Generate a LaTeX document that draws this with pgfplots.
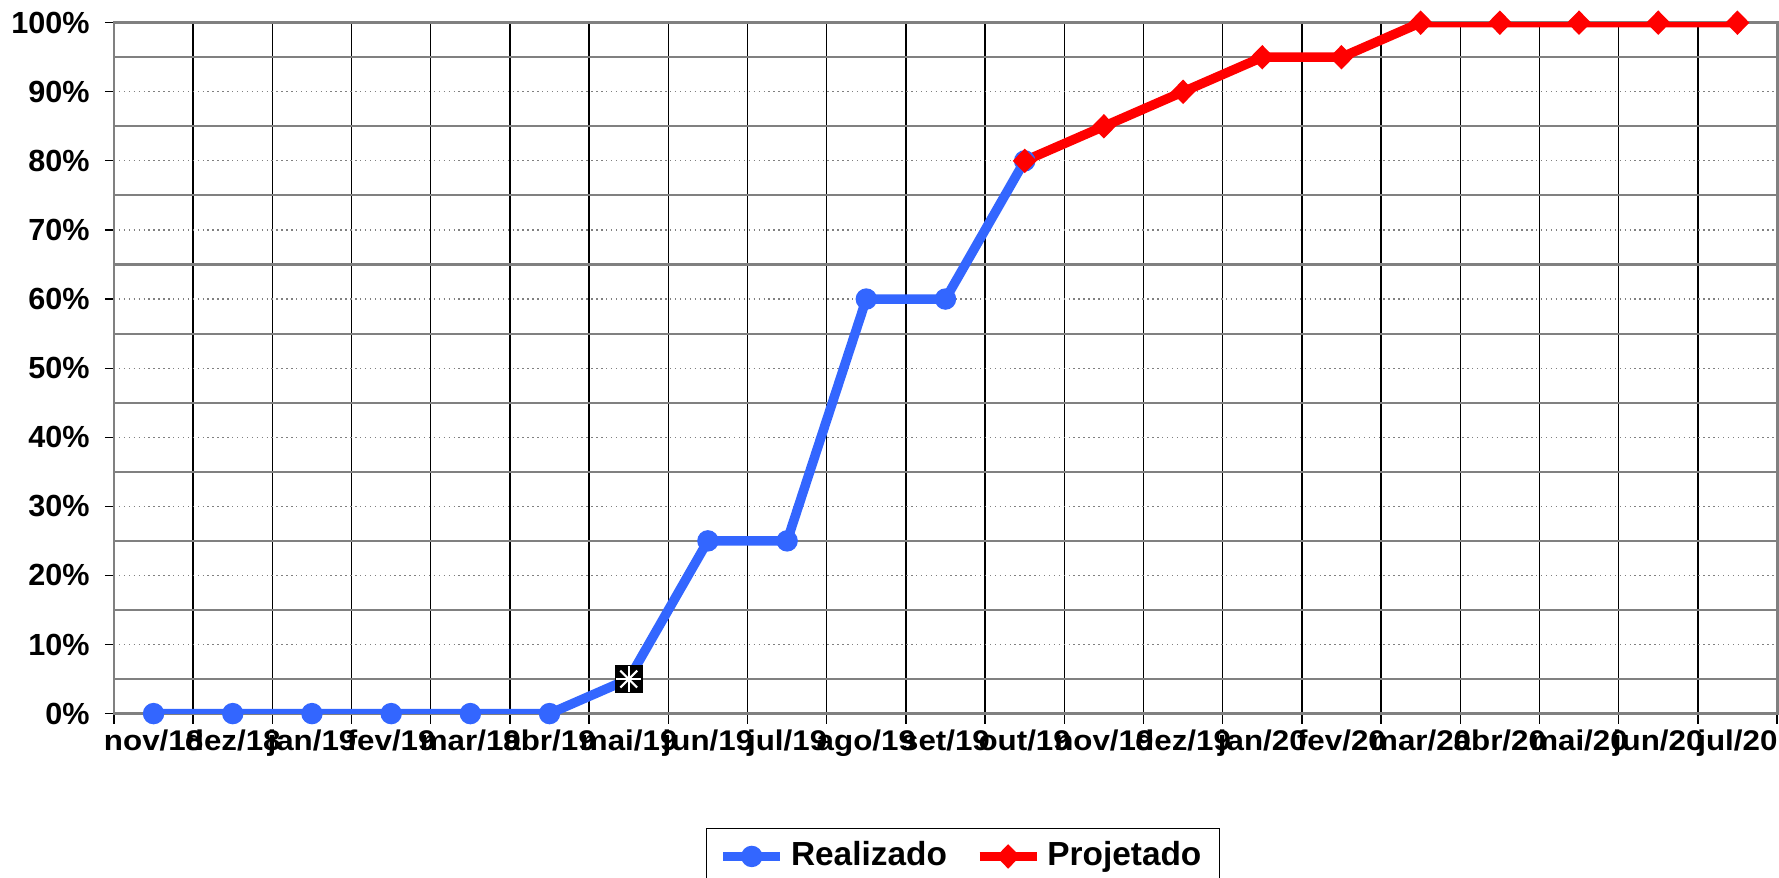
\documentclass[border=0pt]{standalone}
\usepackage{fontspec}
\setmainfont{Liberation Sans}
\newfontfamily\xfont{Liberation Sans}[FakeStretch=1.1]
\usepackage{pgfplots}
\pgfplotsset{compat=1.18}
\definecolor{realblue}{RGB}{51,102,255}
\definecolor{axgray}{RGB}{128,128,128}
\begin{document}
\begin{tikzpicture}
\begin{axis}[
  at={(0,0)}, anchor=south west,
  scale only axis, width=166.3mm, height=69.09mm,
  xmin=-0.5, xmax=20.5, ymin=0, ymax=100,
  xtick={0,...,20},
  xticklabels={nov/18,dez/18,jan/19,fev/19,mar/19,abr/19,mai/19,jun/19,jul/19,ago/19,set/19,out/19,nov/19,dez/19,jan/20,fev/20,mar/20,abr/20,mai/20,jun/20,jul/20},
  minor xtick={-0.5,0.5,...,20.5},
  ytick={0,10,...,100},
  yticklabels={0\%,10\%,20\%,30\%,40\%,50\%,60\%,70\%,80\%,90\%,100\%},
  minor ytick={5,15,...,95},
  xtick pos=bottom, ytick pos=left,
  xminorgrids=true, xmajorgrids=false,
  ymajorgrids=true, yminorgrids=true,
  minor x grid style={black, line width=0.4pt},
  major y grid style={axgray, densely dotted, line width=0.35pt},
  minor y grid style={axgray, line width=0.6pt},
  tick align=outside,
  major tick length=0.9mm, minor tick length=1mm,
  major x tick style={draw=none},
  minor y tick style={draw=none},
  minor x tick style={black, line width=0.4pt},
  major y tick style={black, line width=0.35pt},
  axis line style={axgray, line width=0.85pt},
  yticklabel style={font=\bfseries\fontsize{8.7}{10}\selectfont, xshift=-0.3mm},
  xticklabel style={font=\xfont\bfseries\fontsize{8.1}{9.7}\selectfont, yshift=0.5mm},
  legend columns=2,
  legend style={at={(axis description cs:0.5105,-0.1656)}, anchor=north,
    draw=black, line width=0.4pt, inner xsep=1.2mm, inner ysep=0.7mm,
    font=\bfseries\fontsize{9.5}{11.4}\selectfont,
    nodes={inner sep=0.6mm},
    /tikz/every even column/.append style={column sep=2.2mm}},
  legend image code/.code={\draw[mark repeat=2,mark phase=2,#1] plot coordinates {(0mm,0mm) (2.85mm,0mm) (5.7mm,0mm)};},
]
\addplot[realblue, line width=2.7pt, mark=*, mark size=2.85pt, mark options={fill=realblue, draw=realblue, line width=0.4pt}]
  coordinates {(0,0) (1,0) (2,0) (3,0) (4,0) (5,0) (6,5) (7,25) (8,25) (9,60) (10,60) (11,80)};
\addlegendentry{Realizado}
\addplot[red, line width=2.7pt, mark=diamond*, mark size=3.2pt, mark options={fill=red, draw=red, line width=0.4pt, xscale=1.3}]
  coordinates {(11,80) (12,85) (13,90) (14,95) (15,95) (16,100) (17,100) (18,100) (19,100) (20,100)};
\addlegendentry{Projetado}
\addplot[forget plot, only marks, mark=square*, mark size=3.9pt, mark options={fill=black, draw=black, line width=0.3pt}]
  coordinates {(6,5)};
\addplot[forget plot, only marks, mark=x, mark size=3.4pt, mark options={draw=white, line width=0.6pt}]
  coordinates {(6,5)};
\addplot[forget plot, only marks, mark=+, mark size=3.6pt, mark options={draw=white, line width=0.6pt}]
  coordinates {(6,5)};
\end{axis}
\pgfresetboundingbox
\useasboundingbox (-11.4mm,-16.44mm) rectangle (166.5mm,71.36mm);
\end{tikzpicture}
\end{document}
